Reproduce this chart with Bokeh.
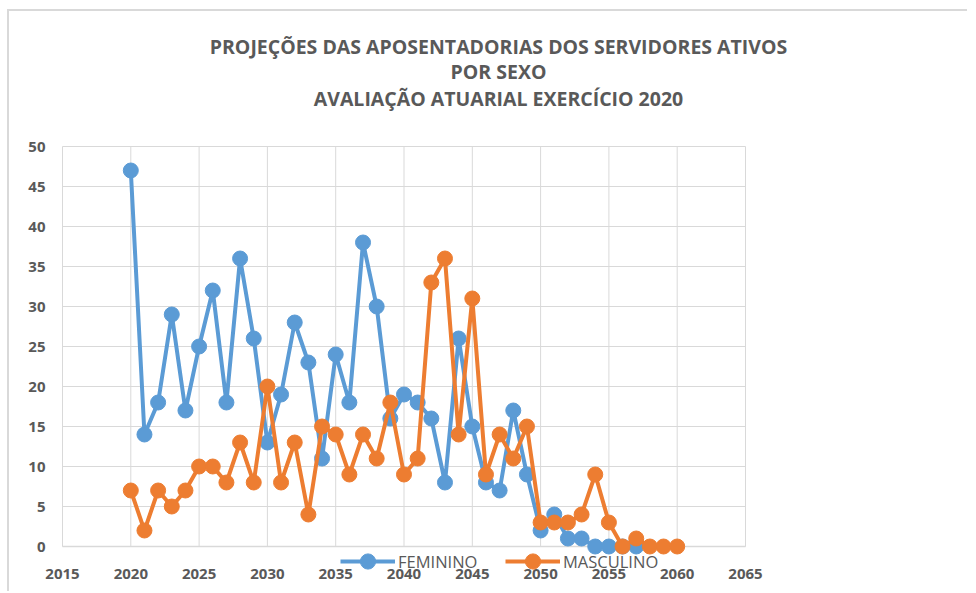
from bokeh.plotting import figure
from bokeh.embed import file_html
from bokeh.resources import INLINE
from bokeh.models import Label, Legend, LegendItem, Range1d
from bokeh.core.properties import value

years_f = list(range(2020, 2058))
feminino = [47, 14, 18, 29, 17, 25, 32, 18, 36, 26,
            13, 19, 28, 23, 11, 24, 18, 38, 30, 16,
            19, 18, 16, 8, 26, 15, 8, 7, 17, 9,
            2, 4, 1, 1, 0, 0, 0, 0]
years_m = list(range(2020, 2061))
masculino = [7, 2, 7, 5, 7, 10, 10, 8, 13, 8,
             20, 8, 13, 4, 15, 14, 9, 14, 11, 18,
             9, 11, 33, 36, 14, 31, 9, 14, 11, 15,
             3, 3, 3, 4, 9, 3, 0, 1, 0, 0, 0]
x_ticks = [2015, 2020, 2025, 2030, 2035, 2040, 2045, 2050, 2055, 2060, 2065]
y_ticks = [0, 5, 10, 15, 20, 25, 30, 35, 40, 45, 50]
title_lines = ["PROJEÇÕES DAS APOSENTADORIAS DOS SERVIDORES ATIVOS",
               "POR SEXO",
               "AVALIAÇÃO ATUARIAL EXERCÍCIO 2020"]
series_names = ["FEMININO", "MASCULINO"]

BLUE = "#5B9BD5"
ORANGE = "#ED7D31"
GRAY = "#595959"
GRID = "#D9D9D9"
FONT = "Open Sans"

# canvas / plot-area geometry (pixels)
W, H = 960, 582
ORIGIN_X, ORIGIN_Y = 9, 11          # canvas top-left on the page
AREA_L, AREA_T = 62, 146            # plot area left / top on the page
AREA_W, AREA_H = 683, 400
xmin, xmax = x_ticks[0], x_ticks[-1]
ymin, ymax = y_ticks[0], y_ticks[-1]
px_x = AREA_W / (xmax - xmin)
px_y = AREA_H / (ymax - ymin)
x_start = xmin - (AREA_L - ORIGIN_X) / px_x
y_end = ymax + (AREA_T - ORIGIN_Y) / px_y

p = figure(width=W, height=H, output_backend="svg", toolbar_location=None,
           x_range=Range1d(x_start, x_start + W / px_x),
           y_range=Range1d(y_end - H / px_y, y_end),
           x_axis_location=None, y_axis_location=None, min_border=0)
p.outline_line_color = None
p.background_fill_color = "white"
p.border_fill_color = "white"
p.xgrid.visible = False
p.ygrid.visible = False
p.styles = {"margin-left": "7px", "margin-top": "9px",
            "border-left": "2px solid #D9D9D9", "border-top": "2px solid #D9D9D9"}

# grid lines limited to the plot area
p.segment(x0=x_ticks, y0=[ymin] * len(x_ticks), x1=x_ticks, y1=[ymax] * len(x_ticks),
          line_color=GRID, line_width=1)
p.segment(x0=[xmin] * len(y_ticks), y0=y_ticks, x1=[xmax] * len(y_ticks), y1=y_ticks,
          line_color=GRID, line_width=1)
p.segment(x0=[xmin], y0=[ymin], x1=[xmax], y1=[ymin], line_color=GRID, line_width=1.5)

# tick labels
p.text(x=x_ticks, y=[ymin] * len(x_ticks), text=[str(t) for t in x_ticks],
       y_offset=27, text_align="center", text_baseline="middle",
       text_font=value(FONT), text_font_style="bold", text_font_size="15px", text_color=GRAY)
p.text(x=[xmin] * len(y_ticks), y=y_ticks, text=[str(t) for t in y_ticks],
       x_offset=-17, text_align="right", text_baseline="middle",
       text_font=value(FONT), text_font_style="bold", text_font_size="15px", text_color=GRAY)

l1 = p.line(years_f, feminino, line_color=BLUE, line_width=4)
s1 = p.scatter(years_f, feminino, size=15, fill_color=BLUE, line_color=BLUE)
l2 = p.line(years_m, masculino, line_color=ORANGE, line_width=4)
s2 = p.scatter(years_m, masculino, size=15, fill_color=ORANGE, line_color=ORANGE)

legend = Legend(items=[LegendItem(label=series_names[0], renderers=[l1, s1]),
                       LegendItem(label=series_names[1], renderers=[l2, s2])],
                orientation="horizontal", location=(331, 13),
                background_fill_alpha=0, border_line_color=None,
                glyph_width=55, glyph_height=38, label_height=16, label_width=80,
                label_standoff=3, spacing=27,
                label_text_font=FONT, label_text_font_size="16.5px",
                label_text_color=GRAY, padding=0, margin=0)
p.add_layout(legend, "center")

title_y = [547, 522, 495]
for t, yy in zip(title_lines, title_y):
    p.add_layout(Label(x=489, y=yy, x_units="screen", y_units="screen",
                       text=t, text_align="center", text_baseline="middle",
                       text_font=FONT, text_font_style="bold",
                       text_font_size="19.5px", text_color=GRAY))

open("out.html", "w").write(file_html(p, INLINE))
